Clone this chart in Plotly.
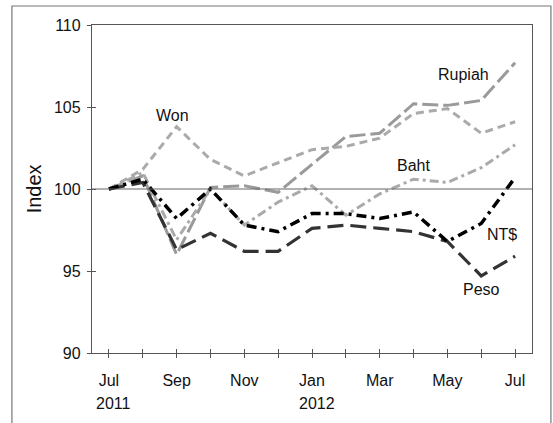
import plotly.graph_objects as go

months = ["Jul", "Aug", "Sep", "Oct", "Nov", "Dec", "Jan", "Feb", "Mar", "Apr", "May", "Jun", "Jul"]
tick_text = ["Jul", "", "Sep", "", "Nov", "", "Jan", "", "Mar", "", "May", "", "Jul"]
years = ["2011", "2012"]
year_month_idx = [0, 6]

rupiah = [100.0, 100.8, 96.0, 100.1, 100.2, 99.8, 101.5, 103.2, 103.4, 105.2, 105.1, 105.4, 107.7]
won = [100.0, 101.2, 103.8, 101.8, 100.8, 101.6, 102.4, 102.6, 103.1, 104.6, 104.9, 103.4, 104.1]
baht = [100.0, 101.0, 96.9, 100.0, 97.8, 99.2, 100.2, 98.4, 99.7, 100.6, 100.4, 101.3, 102.7]
ntd = [100.0, 100.6, 98.2, 100.0, 97.8, 97.4, 98.5, 98.5, 98.2, 98.6, 96.8, 97.9, 100.7]
peso = [100.0, 100.4, 96.3, 97.3, 96.2, 96.2, 97.6, 97.8, 97.6, 97.4, 96.8, 94.7, 95.9]

x = list(range(len(months)))
FONT = "Arial, Liberation Sans"

fig = go.Figure()
# name, values, colour, dash, width
series = [
    ("Rupiah", rupiah, "#9a9a9a", "16px,5px", 3),
    ("Won", won, "#aaaaaa", "8px,5px", 3),
    ("Baht", baht, "#aaaaaa", "9px,4px,3px,4px", 3),
    ("Peso", peso, "#333333", "16px,7px", 3.2),
    ("NT$", ntd, "#000000", "10px,5px,3px,5px", 3.5),
]
for name, vals, col, dash, w in series:
    fig.add_trace(go.Scatter(x=x, y=vals, mode="lines", name=name,
                             line=dict(color=col, dash=dash, width=w)))

# series labels
labels = [("Won", 1.89, 104.5), ("Rupiah", 10.48, 106.96), ("Baht", 9.0, 101.45),
          ("NT$", 11.62, 97.2), ("Peso", 11.0, 93.9)]
for txt, lx, ly in labels:
    fig.add_annotation(x=lx, y=ly, text=txt, showarrow=False,
                       font=dict(family=FONT, size=16, color="#111111"))

for yr, mi in zip(years, year_month_idx):
    fig.add_annotation(x=mi, y=-0.155, yref="paper", text=yr, showarrow=False,
                       xshift=5, yanchor="middle",
                       font=dict(family=FONT, size=16, color="#111111"))

fig.add_annotation(x=-0.131, y=0.5, xref="paper", yref="paper", text="Index",
                   textangle=-90, showarrow=False, xanchor="center", yanchor="middle",
                   font=dict(family=FONT, size=20, color="#111111"))

# line at 100
fig.add_shape(type="line", xref="paper", x0=0, x1=1, y0=100, y1=100,
              line=dict(color="#666666", width=1.2))
# outer frame
fig.add_shape(type="rect", xref="paper", yref="paper", x0=-0.182, x1=1.043,
              y0=-0.3, y1=1.058, line=dict(color="#777777", width=1.2))

axis_font = dict(family=FONT, size=16, color="#111111")
fig.update_layout(
    width=553, height=423,
    margin=dict(l=92, r=21, t=25, b=70, autoexpand=False),
    paper_bgcolor="white", plot_bgcolor="white",
    showlegend=False,
    font=dict(family=FONT, size=16, color="#111111"),
    xaxis=dict(range=[-0.5, 12.5], tickvals=x, ticktext=tick_text, automargin=False,
               showgrid=False, zeroline=False, showline=True, mirror=True,
               linecolor="#555555", linewidth=1.3, ticks="outside", ticklen=4,
               tickcolor="#555555", tickfont=axis_font, ticklabelstandoff=9),
    yaxis=dict(range=[90, 110], dtick=5, showgrid=False, zeroline=False, automargin=False,
               showline=True, mirror=True, linecolor="#555555", linewidth=1.3,
               ticks="outside", ticklen=4, tickcolor="#555555", tickfont=axis_font,
               ticklabelstandoff=3),
    xaxis2=dict(range=[-0.5, 12.5], tickvals=x, overlaying="x", anchor="y",
                side="bottom", showgrid=False, zeroline=False, showline=False,
                ticks="inside", ticklen=4, tickcolor="#555555", showticklabels=False),
    yaxis2=dict(range=[90, 110], dtick=5, overlaying="y", anchor="x", side="left",
                showgrid=False, zeroline=False, showline=False,
                ticks="inside", ticklen=4, tickcolor="#555555", showticklabels=False),
)
fig.add_trace(go.Scatter(x=[None], y=[None], xaxis="x2", yaxis="y2",
                         mode="lines", showlegend=False, hoverinfo="skip"))

# page body has an 8px default margin; drop it so the figure sits at the corner
fig.write_html("out.html", config={"displayModeBar": False},
               post_script="document.body.style.margin='0';")
